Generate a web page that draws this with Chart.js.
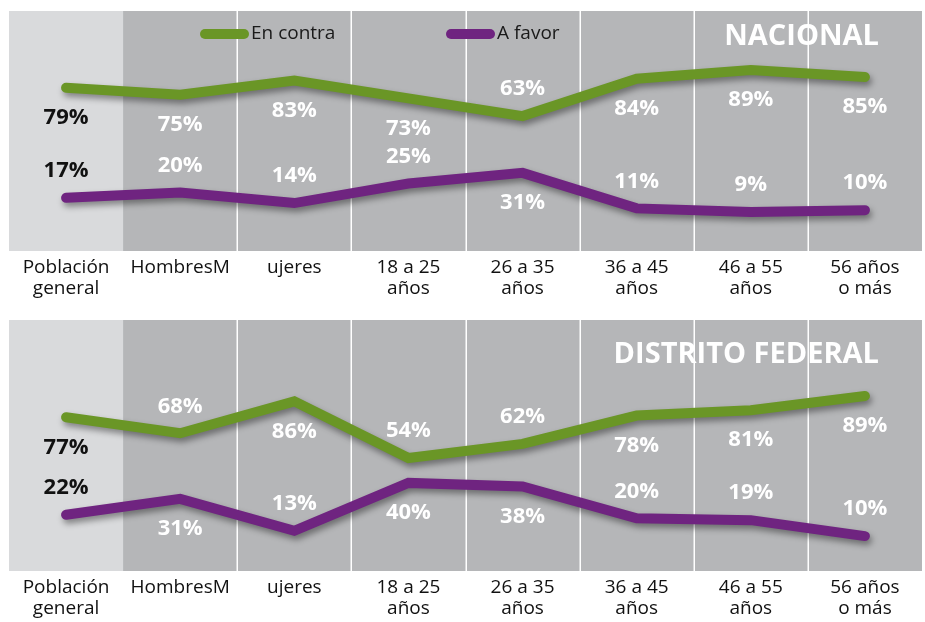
<!DOCTYPE html>
<html>
<head>
<meta charset="utf-8">
<script src="https://cdn.jsdelivr.net/npm/chart.js@4"></script>
<style>
  html, body { margin: 0; padding: 0; background: #fff; }
  #wrap { position: relative; width: 925px; height: 622px; }
  canvas { position: absolute; left: 0; }
</style>
</head>
<body>
<div id="wrap">
  <canvas id="nacional" width="925" height="300" style="top:0"></canvas>
  <canvas id="df" width="925" height="322" style="top:300px"></canvas>
</div>
<script>
// categories (the original labels, typo included)
const categories = [
    ["Población", "general"], ["HombresM"], ["ujeres"],
    ["18 a 25", "años"], ["26 a 35", "años"], ["36 a 45", "años"],
    ["46 a 55", "años"], ["56 años", "o más"]
];

// NACIONAL
const nacionalContra = [79, 75, 83, 73, 63, 84, 89, 85];
const nacionalFavor = [17, 20, 14, 25, 31, 11, 9, 10];

// DISTRITO FEDERAL
const dfContra = [77, 68, 86, 54, 62, 78, 81, 89];
const dfFavor = [22, 31, 13, 40, 38, 20, 19, 10];

// where each value label sits relative to its point
const nacionalContraSide = ["b", "b", "b", "b", "a", "b", "b", "b"];
const nacionalFavorSide = ["a", "a", "a", "a", "b", "a", "a", "a"];
const dfContraSide = ["b", "a", "b", "a", "a", "b", "b", "b"];
const dfFavorSide = ["a", "b", "a", "b", "b", "a", "a", "a"];

const GREEN = "#6a9626";
const PURPLE = "#6f2480";
const FONT = "'Open Sans', 'Noto Sans', sans-serif";

Chart.defaults.font.family = FONT;

// grey columns behind the plot
const backdrop = {
    id: "backdrop",
    beforeDraw(chart) {
        const ctx = chart.ctx;
        const { left, right, top, bottom } = chart.chartArea;
        const xs = chart.scales.x;
        const n = chart.data.labels.length;
        const edge = i => (xs.getPixelForValue(i) + xs.getPixelForValue(i + 1)) / 2;

        ctx.save();
        ctx.fillStyle = "#b5b6b8";
        ctx.fillRect(left, top, right - left, bottom - top);
        ctx.fillStyle = "#d9dadc";
        ctx.fillRect(left, top, edge(0) - left, bottom - top);

        ctx.strokeStyle = "#ffffff";
        ctx.lineWidth = 1.5;
        for (let i = 1; i < n - 1; i++) {
            const x = Math.round(edge(i)) + 0.25;
            ctx.beginPath();
            ctx.moveTo(x, top);
            ctx.lineTo(x, bottom);
            ctx.stroke();
        }
        ctx.restore();
    }
};

// soft drop shadow under the lines
const lineShadow = {
    id: "lineShadow",
    beforeDatasetDraw(chart) {
        const ctx = chart.ctx;
        ctx.save();
        ctx.shadowColor = "rgba(0,0,0,0.4)";
        ctx.shadowBlur = 6;
        ctx.shadowOffsetX = 2;
        ctx.shadowOffsetY = 4;
    },
    afterDatasetDraw(chart) {
        chart.ctx.restore();
    }
};

// percentages, legend and panel title
const annotate = {
    id: "annotate",
    afterDraw(chart) {
        const ctx = chart.ctx;
        const opts = chart.options.plugins.annotate;

        ctx.save();
        ctx.font = "bold 22px " + FONT;
        ctx.textAlign = "center";
        ctx.textBaseline = "middle";
        chart.data.datasets.forEach((ds, d) => {
            const meta = chart.getDatasetMeta(d);
            meta.data.forEach((pt, i) => {
                const dy = ds.labelSide[i] === "b" ? 30 : -27;
                ctx.fillStyle = i === 0 ? "#111111" : "#ffffff";
                ctx.fillText(ds.data[i] + "%", pt.x, pt.y + dy);
            });
        });

        if (opts.legend) {
            const xs = [200, 446];
            ctx.font = "19px " + FONT;
            ctx.textAlign = "left";
            ctx.lineCap = "round";
            ctx.lineWidth = 10;
            chart.data.datasets.forEach((ds, d) => {
                const x = xs[d], y = 34;
                ctx.strokeStyle = ds.borderColor;
                ctx.beginPath();
                ctx.moveTo(x + 5, y);
                ctx.lineTo(x + 44, y);
                ctx.stroke();
                ctx.fillStyle = "#1a1a1a";
                ctx.fillText(ds.label, x + 51, y);
            });
        }

        ctx.font = "bold 29px " + FONT;
        ctx.textAlign = "right";
        ctx.fillStyle = "#ffffff";
        ctx.fillText(opts.title, 879, opts.titleY);
        ctx.restore();
    }
};

function makeChart(id, title, titleY, contra, favor, contraSide, favorSide, yMin, yMax, padTop, axisH, legend) {
    return new Chart(document.getElementById(id), {
        type: "line",
        data: {
            labels: categories,
            datasets: [{
                label: "En contra",
                data: contra,
                labelSide: contraSide,
                borderColor: GREEN,
                borderWidth: 10,
                borderCapStyle: "round",
                borderJoinStyle: "miter",
                pointRadius: 0,
                tension: 0
            }, {
                label: "A favor",
                data: favor,
                labelSide: favorSide,
                borderColor: PURPLE,
                borderWidth: 10,
                borderCapStyle: "round",
                borderJoinStyle: "miter",
                pointRadius: 0,
                tension: 0
            }]
        },
        options: {
            responsive: false,
            animation: false,
            layout: { padding: { left: 9, right: 3, top: padTop, bottom: 0 } },
            scales: {
                x: {
                    offset: true,
                    grid: { display: false, drawTicks: false },
                    border: { display: false },
                    ticks: {
                        color: "#111111",
                        font: { size: 19, lineHeight: 1.1 },
                        padding: 6,
                        maxRotation: 0,
                        autoSkip: false
                    },
                    afterFit: s => { s.height = axisH; }
                },
                y: { display: false, min: yMin, max: yMax }
            },
            plugins: {
                legend: { display: false },
                tooltip: { enabled: false },
                annotate: { title: title, titleY: titleY, legend: legend }
            }
        },
        plugins: [backdrop, lineShadow, annotate]
    });
}

makeChart("nacional", "NACIONAL", 37, nacionalContra, nacionalFavor,
    nacionalContraSide, nacionalFavorSide, -13, 122.2, 11, 49, true);

makeChart("df", "DISTRITO FEDERAL", 55, dfContra, dfFavor,
    dfContraSide, dfFavorSide, -9.7, 131.9, 20, 51, false);
</script>
</body>
</html>
